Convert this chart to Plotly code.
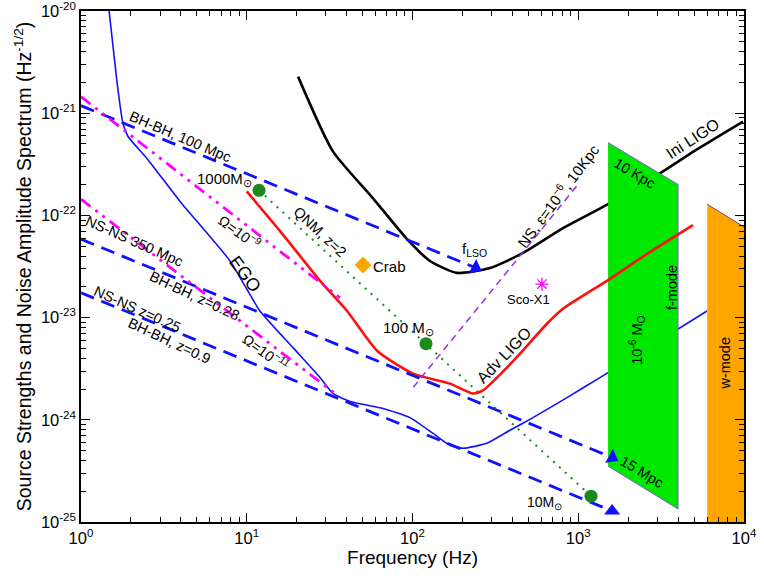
import numpy as np
import plotly.graph_objects as go

# ---------------- data (frequency in Hz, amplitude in Hz^-1/2) ----------------
ini_ligo_f = [20.4, 33.1, 57.8, 92.7, 127.6, 185.4, 293.8, 464.5, 809, 1514, 3112, 5200, 9860]
ini_ligo_h = [2.28e-21, 4.23e-22, 1.47e-22, 5.86e-23, 3.58e-23, 2.74e-23, 3.05e-23,
              4.29e-23, 7.50e-23, 1.29e-22, 2.58e-22, 4.42e-22, 8.28e-22]

adv_ligo_f = [10.0, 15.9, 27.7, 40.3, 61.1, 100.7, 168.3, 231.7, 266.1, 323.6, 445.6,
              647.1, 809, 1489, 2600, 4920]
adv_ligo_h = [1.72e-22, 7.01e-23, 2.29e-23, 1.16e-23, 4.74e-24, 2.83e-24, 2.26e-24,
              1.81e-24, 1.94e-24, 2.59e-24, 4.44e-24, 8.71e-24, 1.22e-23, 2.29e-23,
              4.19e-23, 8.02e-23]

ego_f = [1.455, 1.648, 1.791, 1.921, 2.50, 3.96, 7.93, 12.02, 19.01, 27.67, 33.1, 42.0,
         66.4, 96.6, 133, 168, 202, 281, 387, 533, 855, 1352, 5984]
ego_h = [1.25e-20, 2.03e-21, 7.92e-22, 5.92e-22, 3.61e-22, 1.37e-22, 3.58e-23, 1.16e-23,
         5.08e-24, 2.59e-24, 1.81e-24, 1.51e-24, 1.29e-24, 1.05e-24, 7.36e-25, 5.64e-25,
         5.26e-25, 5.89e-25, 7.89e-25, 1.05e-24, 1.65e-24, 2.59e-24, 1.16e-23]

# inspiral tracks (start at 1 Hz, end at the arrow)
bbh100_f = [1.0, 240]
bbh100_h = [1.186e-21, 3.07e-23]
bbh028_f = [1.0, 1600]
bbh028_h = [5.86e-23, 4.28e-25]
bbh09_f = [1.0, 1600]
bbh09_h = [1.75e-23, 1.28e-25]

# stochastic background
omega9_f = [1.0, 36.5]
omega9_h = [1.45e-21, 1.56e-23]
omega11_f = [1.0, 34.1]
omega11_h = [1.44e-22, 1.81e-24]

# quasi-normal modes, z = 2
qnm_f = [11.86, 120.6, 1194]
qnm_h = [1.76e-22, 5.56e-24, 1.79e-25]
qnm_names = ["1000M<sub>⊙</sub>", "100 M<sub>⊙</sub>", "10M<sub>⊙</sub>"]

# rotating neutron star, eps = 1e-6 at 10 kpc
ns_f = [101.2, 996]
ns_h = [2.08e-24, 2.01e-22]

# known pulsars / LMXB
crab_f, crab_h = [50.3], [3.27e-23]
sco_f, sco_h = [604], [2.13e-23]

# stellar-collapse mode bands
fmode_f = [1513, 4000, 4000, 1513]
fmode_h = [5.16e-22, 2.01e-22, 1.34e-25, 3.52e-25]
wmode_f = [6000, 12000, 12000, 6000]
wmode_h = [1.285e-22, 6.42e-23, 1e-27, 1e-27]

x_ticks = [1, 10, 100, 1000, 10000]
x_ticktext = ["10<sup>0</sup>", "10<sup>1</sup>", "10<sup>2</sup>", "10<sup>3</sup>", "10<sup>4</sup>"]
y_ticks = [1e-25, 1e-24, 1e-23, 1e-22, 1e-21, 1e-20]
y_ticktext = ["10<sup>-25</sup>", "10<sup>-24</sup>", "10<sup>-23</sup>",
              "10<sup>-22</sup>", "10<sup>-21</sup>", "10<sup>-20</sup>"]

# ---------------- styling ----------------
FONT = "Liberation Sans, Arial, Helvetica, sans-serif"
BLUE = "#1010ff"
RED = "#ff1010"
GREEN_DOT = "#1a8a1a"
MAGENTA = "#ff00ff"
PURPLE = "#9a30e0"

fig = go.Figure()


def line(f, h, color, width, dash="solid", shape="linear", smoothing=0.6):
    fig.add_trace(go.Scatter(x=f, y=h, mode="lines", hoverinfo="skip",
                             line=dict(color=color, width=width, dash=dash, shape=shape,
                                       smoothing=smoothing)))


# detector noise curves drawn beneath the mode bands
line(ini_ligo_f, ini_ligo_h, "black", 2.6, shape="spline")
line(ego_f, ego_h, BLUE, 1.6, shape="spline", smoothing=0.5)

# f-mode and w-mode bands
fig.add_trace(go.Scatter(x=fmode_f, y=fmode_h, mode="lines", fill="toself",
                         fillcolor="#00e800", line=dict(color="#8a5cd6", width=1),
                         hoverinfo="skip"))
fig.add_trace(go.Scatter(x=wmode_f, y=wmode_h, mode="lines", fill="toself",
                         fillcolor="#ffa500", line=dict(color="#8b3a62", width=1),
                         hoverinfo="skip"))

line(adv_ligo_f, adv_ligo_h, RED, 2.6, shape="spline")

# inspiral tracks
for f, h in [(bbh100_f, bbh100_h), (bbh028_f, bbh028_h), (bbh09_f, bbh09_h)]:
    line(f, h, BLUE, 2.8, dash="14px,8px")

# stochastic background lines
for f, h in [(omega9_f, omega9_h), (omega11_f, omega11_h)]:
    line(f, h, MAGENTA, 2.8, dash="12px,6px,3px,6px,3px,6px")

# neutron star line
line(ns_f, ns_h, PURPLE, 1.5, dash="7px,5px")

# QNM track and masses
line(qnm_f, qnm_h, GREEN_DOT, 2, dash="2px,6px")
fig.add_trace(go.Scatter(x=qnm_f, y=qnm_h, mode="markers", hoverinfo="skip",
                         marker=dict(color=GREEN_DOT, size=13, symbol="circle")))

# arrow heads at the end of the inspiral tracks
fig.add_trace(go.Scatter(x=[bbh100_f[-1], bbh028_f[-1]], y=[bbh100_h[-1], bbh028_h[-1]],
                         mode="markers", hoverinfo="skip",
                         marker=dict(color=BLUE, size=14, symbol="triangle-right", angle=28)))
fig.add_trace(go.Scatter(x=[bbh09_f[-1]], y=[bbh09_h[-1]], mode="markers", hoverinfo="skip",
                         marker=dict(color=BLUE, size=14, symbol="triangle-up")))

# Crab and Sco-X1
fig.add_trace(go.Scatter(x=crab_f, y=crab_h, mode="markers", hoverinfo="skip",
                         marker=dict(color="#ffa500", size=13, symbol="diamond")))
fig.add_trace(go.Scatter(x=sco_f, y=sco_h, mode="markers", hoverinfo="skip",
                         marker=dict(color=MAGENTA, size=11, symbol="asterisk-open",
                                     line=dict(color=MAGENTA, width=1.3))))


def label(text, f, h, angle=0, size=14.5, **kw):
    fig.add_annotation(x=np.log10(f), y=np.log10(h), text=text, textangle=angle,
                       showarrow=False, font=dict(family=FONT, size=size, color="black"),
                       **kw)


label("BH-BH, 100 Mpc", 4.01, 5.91e-22, angle=23)
label("NS-NS 350 Mpc", 2.09, 5.61e-23, angle=24)
label("BH-BH, z=0.28", 4.87, 1.63e-23, angle=25)
label("NS-NS z=0.25", 2.18, 1.22e-23, angle=24)
label("BH-BH, z=0.9", 3.44, 5.94e-24, angle=25)
label("Ω=10<sup>−9</sup>", 9.1, 6.86e-23, angle=36)
label("Ω=10<sup>−11</sup>", 13.06, 4.64e-24, angle=36)
label("EGO", 9.76, 2.67e-23, angle=53, size=18)
label("QNM, z=2", 27.7, 6.86e-23, angle=43)
label(qnm_names[0], 7.39, 2.25e-22, size=15)
label(qnm_names[1], 94, 7.78e-24, size=15)
label(qnm_names[2], 630, 1.53e-25, size=14)
label("Crab", 56.2, 3.13e-23, xanchor="left", size=15)
label("f<sub>LSO</sub>", 235, 4.69e-23, size=15)
label("NS, ε=10<sup>−6</sup>, 10Kpc", 745, 1.57e-22, angle=-53, size=15)
label("Ini LIGO", 4920, 5.65e-22, angle=-33, size=16)
label("Adv LIGO", 356, 4.25e-24, angle=-46, size=16)
label("Sco-X1", 498, 1.52e-23, size=13)
label("10 Kpc", 2170, 2.58e-22, angle=31)
label("15 Mpc", 2426, 3.07e-25, angle=31)
label("f-mode", 3680, 1.95e-23, angle=-90)
label("10<sup>-6</sup> M<sub>O</sub>", 2262, 5.94e-24, angle=-90)
label("w-mode", 7680, 3.55e-24, angle=-90)

axis_common = dict(
    type="log", showgrid=False, zeroline=False, automargin=False,
    showline=True, linecolor="black", linewidth=1.5, mirror="ticks",
    ticks="inside", ticklen=9, tickwidth=1.2, tickcolor="black",
    tickfont=dict(family=FONT, size=16.5, color="black"),
    ticklabeloverflow="allow",
)

x_minor = [m * 10 ** k for k in range(0, 4) for m in range(2, 10)]
y_minor = [m * 10.0 ** k for k in range(-25, -20) for m in range(2, 10)]

fig.update_xaxes(**axis_common, range=[0, 4], tickmode="array", tickvals=x_ticks,
                 ticktext=x_ticktext,
                 minor=dict(ticks="inside", ticklen=5, tickwidth=1, tickcolor="black",
                            tickmode="array", tickvals=x_minor, showgrid=False),
                 title=dict(text="Frequency (Hz)", standoff=2,
                            font=dict(family=FONT, size=19, color="black")))
fig.update_yaxes(**axis_common, range=[-25, -20], tickmode="array", tickvals=y_ticks,
                 ticktext=y_ticktext,
                 minor=dict(ticks="inside", ticklen=5, tickwidth=1, tickcolor="black",
                            tickmode="array", tickvals=y_minor, showgrid=False),
                 title=dict(text="Source Strengths and Noise Amplitude Spectrum (Hz<sup>-1/2</sup>)",
                            standoff=4, font=dict(family=FONT, size=19.5, color="black")))

fig.update_layout(
    width=764, height=580,
    margin=dict(l=81, r=20, t=11, b=58),
    paper_bgcolor="white", plot_bgcolor="white",
    showlegend=False,
    font=dict(family=FONT, color="black"),
)

fig.write_html("out.html")
